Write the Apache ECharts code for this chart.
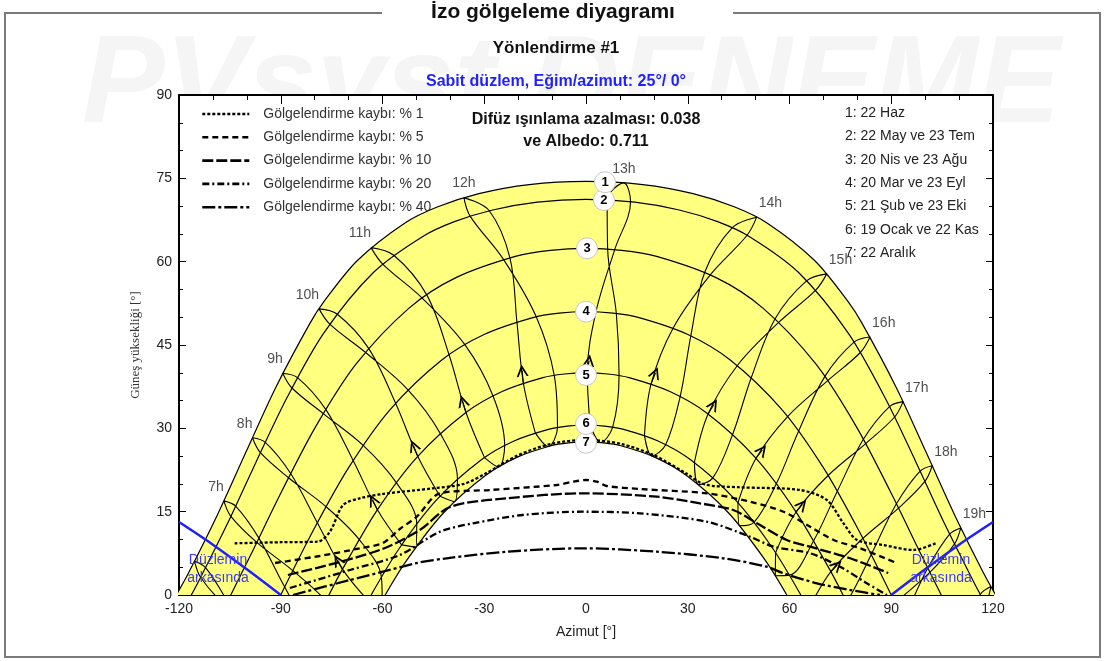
<!DOCTYPE html>
<html><head><meta charset="utf-8">
<script src="https://cdn.jsdelivr.net/npm/echarts@6/dist/echarts.min.js"></script>
<style>html,body{margin:0;padding:0;background:#fff}#c{width:1106px;height:661px}</style>
</head><body><div id="c"></div>
<script>
// ---------- DATA (azimuth [deg], elevation [deg]) ----------
const X_MIN = -120, X_MAX = 120, X_STEP = 30;
const Y_MIN = 0, Y_MAX = 90, Y_STEP = 15;

const DATE_LABELS = ['1: 22 Haz', '2: 22 May ve 23 Tem', '3: 20 Nis ve 23 Ağu', '4: 20 Mar ve 23 Eyl',
  '5: 21 Şub ve 23 Eki', '6: 19 Ocak ve 22 Kas', '7: 22 Aralık'];

const SUN_PATH_1 = [[-120.79,0],[-117.36,3.77],[-108.62,14.5],[-100.22,25.77],[-91.47,37.36],[-81.32,48.98],[-77.28,52.8],[-67.41,60.21],[-53.37,66.97],[-43.69,69.88],[-31.57,72.25],[-16.73,73.88],[0,74.44],[16.73,73.88],[31.57,72.25],[43.69,69.88],[53.37,66.97],[67.41,60.21],[77.28,52.8],[81.32,48.98],[91.47,37.36],[100.22,25.77],[108.62,14.5],[117.36,3.77],[120.79,0]];
const SUN_PATH_2 = [[-116.38,0],[-114.92,1.63],[-105.95,12.55],[-97.26,23.96],[-88.1,35.59],[-77.32,47.14],[-62.61,58.09],[-48.23,64.5],[-38.79,67.2],[-27.48,69.3],[-14.34,70.71],[0,71.2],[14.34,70.71],[27.48,69.3],[38.79,67.2],[48.23,64.5],[62.61,58.09],[77.32,47.14],[88.1,35.59],[97.26,23.96],[105.95,12.55],[114.92,1.63],[116.38,0]];
const SUN_PATH_3 = [[-104.74,0],[-98.91,7.15],[-89.63,18.76],[-79.66,30.35],[-67.82,41.54],[-52.17,51.64],[-38.2,57.17],[-20.56,61.0],[-10.5,62.04],[0,62.4],[10.5,62.04],[20.56,61.0],[38.2,57.17],[52.17,51.64],[67.82,41.54],[79.66,30.35],[89.63,18.76],[98.91,7.15],[104.74,0]];
const SUN_PATH_4 = [[-90,0],[-80.43,11.6],[-70.03,22.87],[-57.82,33.33],[-42.53,42.3],[-30.04,46.9],[-15.65,49.94],[-7.92,50.73],[0,51.0],[7.92,50.73],[15.65,49.94],[30.04,46.9],[42.53,42.3],[57.82,33.33],[70.03,22.87],[80.43,11.6],[90,0]];
const SUN_PATH_5 = [[-75.79,0],[-71.99,4.43],[-61.72,15.15],[-49.87,24.79],[-35.69,32.72],[-24.74,36.63],[-12.7,39.13],[-6.39,39.78],[0,40.0],[6.39,39.78],[12.7,39.13],[24.74,36.63],[35.69,32.72],[49.87,24.79],[61.72,15.15],[71.99,4.43],[75.79,0]];
const SUN_PATH_6 = [[-63.35,0],[-55.12,8.33],[-43.93,17.2],[-30.94,24.29],[-21.23,27.72],[-10.82,29.86],[-5.44,30.41],[0,30.6],[5.44,30.41],[10.82,29.86],[21.23,27.72],[30.94,24.29],[43.93,17.2],[55.12,8.33],[63.35,0]];
const SUN_PATH_7 = [[-59.21,0],[-53.03,6.1],[-42.12,14.71],[-29.55,21.54],[-20.23,24.82],[-10.29,26.87],[-5.17,27.39],[0,27.56],[5.17,27.39],[10.29,26.87],[20.23,24.82],[29.55,21.54],[42.12,14.71],[53.03,6.1],[59.21,0]];

// hour lines: points for Jan19, Feb21, Mar20, Apr20, May22, Jun22, Jul23, Aug23, Sep23, Oct23, Nov22, Dec22
const HOUR_NAMES = ['6h','7h','8h','9h','10h','11h','12h','13h','14h','15h','16h','17h','18h','19h','20h'];
const HOUR_6  = [[-81.92,-23.2],[-90.5,-18.28],[-98.37,-10.18],[-105.73,-1.19],[-112.12,4.89],[-115.4,6.07],[-113.6,3.16],[-106.37,-1.93],[-95.92,-7.26],[-85.93,-12.57],[-78.36,-18.5],[-77.45,-22.6]];
const HOUR_7  = [[-73.24,-11.85],[-81.22,-6.67],[-88.84,1.44],[-96.44,10.24],[-103.3,15.99],[-106.77,16.94],[-104.71,14.16],[-97.05,9.47],[-86.43,4.39],[-76.67,-1.07],[-69.63,-7.33],[-69.01,-11.46]];
const HOUR_8  = [[-64.25,-1.0],[-71.8,4.66],[-79.21,13.02],[-87.07,21.88],[-94.56,27.49],[-98.35,28.31],[-95.99,25.62],[-87.71,21.11],[-76.66,15.9],[-66.91,10.0],[-60.33,3.23],[-60.09,-0.94]];
const HOUR_9  = [[-54.36,9.02],[-61.5,15.35],[-68.65,24.21],[-76.74,33.41],[-85.07,39.12],[-89.42,39.92],[-86.69,37.26],[-77.47,32.65],[-65.7,26.94],[-55.93,20.23],[-49.91,12.8],[-50.18,8.62]];
const HOUR_10 = [[-43.06,17.78],[-49.61,24.97],[-56.14,34.53],[-64.09,44.39],[-73.41,50.58],[-78.71,51.5],[-75.54,48.76],[-65.06,43.69],[-52.49,36.93],[-42.98,29.09],[-37.9,20.89],[-38.81,16.81]];
const HOUR_11 = [[-29.92,24.73],[-35.38,32.85],[-40.38,43.25],[-46.96,54.02],[-56.67,61.15],[-63.38,62.53],[-59.93,59.57],[-48.3,53.45],[-35.72,45.07],[-27.41,35.83],[-23.98,26.89],[-25.77,23.04]];
const HOUR_12 = [[-14.94,29.19],[-18.47,38.16],[-20.37,49.17],[-22.45,60.72],[-28.53,69.17],[-36.0,71.53],[-34.17,68.19],[-24.34,60.41],[-14.67,50.07],[-9.37,39.53],[-8.41,30.16],[-11.15,26.74]];
const HOUR_13 = [[1.2,30.59],[0.38,39.99],[2.94,50.96],[8.47,62.18],[13.14,70.78],[11.18,74.19],[6.24,71.1],[6.38,62.28],[8.94,50.66],[9.75,39.49],[7.87,30.21],[4.29,27.44]];
const HOUR_14 = [[17.24,28.72],[19.19,38.0],[25.7,48.06],[36.64,57.63],[47.5,64.76],[50.32,68.01],[43.08,66.09],[35.01,58.09],[30.91,46.65],[27.76,35.72],[23.49,27.05],[19.4,25.04]];
const HOUR_15 = [[31.96,23.85],[36.0,32.58],[44.64,41.31],[56.88,49.1],[67.73,54.87],[71.0,57.8],[65.11,56.59],[55.77,49.74],[48.74,39.15],[43.25,28.94],[37.46,21.12],[33.19,19.87]];
const HOUR_16 = [[44.8,16.61],[50.13,24.61],[59.45,32.12],[71.28,38.6],[80.89,43.65],[83.76,46.43],[79.03,45.52],[70.43,39.35],[62.71,29.52],[56.15,20.05],[49.54,13.09],[45.31,12.47]];
const HOUR_17 = [[55.89,7.62],[61.94,14.95],[71.39,21.51],[82.47,27.26],[91.0,32.04],[93.48,34.8],[89.48,33.91],[81.78,28.03],[74.1,18.69],[67.12,9.78],[60.0,3.57],[55.81,3.47]];
const HOUR_18 = [[65.61,-2.54],[72.19,4.22],[81.63,10.18],[92.15,15.64],[99.92,20.44],[102.07,23.26],[98.51,22.3],[91.53,16.41],[84.08,7.26],[76.86,-1.29],[69.33,-6.96],[65.12,-6.67]];
const HOUR_19 = [[74.52,-13.5],[81.59,-7.13],[91.16,-1.44],[101.38,4.07],[108.63,9.16],[110.5,12.07],[107.21,10.95],[100.77,4.84],[93.57,-4.39],[86.1,-12.8],[78.07,-18.1],[73.71,-17.6]];
const HOUR_20 = [[83.2,-24.9],[90.9,-18.75],[100.79,-13.02],[110.94,-7.12],[117.8,-1.55],[119.38,1.51],[116.27,0.13],[110.28,-6.39],[103.34,-15.9],[95.64,-24.45],[86.86,-29.7],[82.13,-28.96]];
const HOUR_LINES = [HOUR_6,HOUR_7,HOUR_8,HOUR_9,HOUR_10,HOUR_11,HOUR_12,HOUR_13,HOUR_14,HOUR_15,HOUR_16,HOUR_17,HOUR_18,HOUR_19,HOUR_20];
const HOUR_LABELED = ['7h','8h','9h','10h','11h','12h','13h','14h','15h','16h','17h','18h','19h'];

// direction arrows on hour lines (from point, arrow tip)
const ARROWS = [
  [[-71.8,4.66],[-73.3,6.3]], [[-61.5,15.35],[-62.9,17.1]], [[-49.61,24.97],[-50.9,26.9]],
  [[-35.38,32.85],[-36.4,34.9]], [[-18.47,38.16],[-18.85,40.4]], [[0.38,39.99],[0.9,42.2]],
  [[19.19,38.0],[20.5,40.0]], [[36.0,32.58],[37.7,34.3]], [[50.13,24.61],[52.0,26.1]],
  [[61.94,14.95],[63.8,16.3]], [[72.19,4.22],[74.1,5.4]]
];

// iso-shading lines
const SHADE_NAMES = ['Gölgelendirme kaybı: % 1','Gölgelendirme kaybı: % 5','Gölgelendirme kaybı: % 10','Gölgelendirme kaybı: % 20','Gölgelendirme kaybı: % 40'];
const SHADE_1  = [[-103.6,9.3],[-90,9.5],[-79.1,9.6],[-75.5,11.4],[-71.6,16.2],[-66.7,17.4],[-59.8,18.2],[-45.1,19.2],[-36,20.0],[-29.5,21.9],[-20.2,25.1],[-10.3,27.2],[0,27.9],[10.3,27.2],[20.2,25.1],[29.5,21.9],[35,19.9],[45,19.4],[63.1,18.9],[71,17.1],[75.8,13.0],[79.9,9.9],[87.6,9.0],[96.5,8.1],[103.5,9.4]];
const SHADE_5  = [[-91.7,5.76],[-78.5,7.02],[-66.7,8.41],[-59.9,9.36],[-54.9,11.88],[-49.9,14.09],[-43.1,18.3],[-28.3,18.9],[-8.6,19.8],[-3.8,20.39],[0.2,20.7],[3.2,20.39],[6.1,19.62],[15.9,19.08],[35.6,18.3],[48.4,16.79],[58.2,14.99],[66.1,12.29],[73.0,9.9],[80.8,8.41],[91.7,5.71]];
const SHADE_10 = [[-87.9,3.6],[-72.6,5.94],[-59.3,8.46],[-49.0,11.7],[-40.1,15.84],[-23.4,17.4],[-0.9,18.3],[20.9,17.69],[33.6,16.5],[43.4,15.3],[50.4,12.9],[59.2,9.9],[66.1,8.69],[77.9,6.61],[89.1,3.96]];
const SHADE_20 = [[-87.3,1.26],[-69.6,4.5],[-54.9,7.2],[-43.1,11.39],[-33.3,12.9],[-18.6,14.4],[-0.9,14.99],[15.9,14.7],[35.6,13.19],[48.4,10.49],[55.3,8.69],[66.1,7.51],[74.9,5.09],[82.8,2.11],[88.7,0]];
const SHADE_40 = [[-86.4,0],[-69.6,2.7],[-59.9,4.19],[-49.9,5.76],[-41.1,6.61],[-23.4,7.79],[-0.9,8.41],[20.9,7.79],[40.4,6.61],[53.3,5.09],[58.2,3.91],[68.1,2.11],[77.9,0.9],[86.7,0]];
const SHADES = [SHADE_1,SHADE_5,SHADE_10,SHADE_20,SHADE_40];

const PLANE_LEFT  = [[-120,13.13],[-110,9.06],[-100,4.63],[-90,0]];
const PLANE_RIGHT = [[90,0],[100,4.63],[110,9.06],[120,13.13]];

const MARKER_NAMES = ['1','2','3','4','5','6','7'];
const MARKER_POS = [[5.6,74.3],[5.3,71.1],[0.3,62.4],[0,51.0],[0,39.6],[0,30.8],[0,27.4]];

// ---------- STYLE ----------
const NARROW = "'Liberation Sans Narrow','Liberation Sans',Arial,sans-serif";
const SANS = "'Liberation Sans',Arial,sans-serif";
const YELLOW = '#ffff80';
const BLUE = '#1f1fff';
const DASHES = [[3,2],[6,4],[11,3],[7,3,2,3],[13,3,3,3]];

const chart = echarts.init(document.getElementById('c'), null, {renderer:'canvas'});
const series = [];
series.push({type:'line', data:SUN_PATH_1, smooth:0.3, symbol:'none', silent:true, z:1,
  lineStyle:{color:'#000', width:1.2}, areaStyle:{color:YELLOW, opacity:1}});
series.push({type:'line', data:SUN_PATH_7, smooth:0.3, symbol:'none', silent:true, z:2,
  lineStyle:{color:'#000', width:1.2}, areaStyle:{color:'#fff', opacity:1}});
[SUN_PATH_2,SUN_PATH_3,SUN_PATH_4,SUN_PATH_5,SUN_PATH_6].forEach(p => series.push({
  type:'line', data:p, smooth:0.3, symbol:'none', silent:true, z:3, lineStyle:{color:'#000', width:1.2}}));
HOUR_LINES.forEach(h => series.push({type:'line', data:h.concat([h[0]]), smooth:0.35, symbol:'none',
  silent:true, z:3, lineStyle:{color:'#000', width:1.1}}));
series.push({type:'lines', coordinateSystem:'cartesian2d', z:4, silent:true,
  symbol:['none','path://M5,0L10,13L8.4,13L5,4.2L1.6,13L0,13Z'], symbolSize:[8,12],
  lineStyle:{color:'#000', width:1.1, opacity:1},
  data: ARROWS.map(a => ({coords:a}))});
SHADES.forEach((s,i) => series.push({type:'line', name:SHADE_NAMES[i], data:s, smooth:0.3, symbol:'none',
  silent:true, z:5, lineStyle:{color:'#000', width:2.3, type:DASHES[i]}, itemStyle:{color:'rgba(0,0,0,0)'}}));
[PLANE_LEFT, PLANE_RIGHT].forEach(p => series.push({type:'line', data:p, smooth:0.3, symbol:'none', silent:true,
  z:5, lineStyle:{color:BLUE, width:2.5}}));
// hour labels at the 22 June points
series.push({type:'scatter', z:6, symbolSize:0, silent:true,
  data: HOUR_LABELED.map(n => {
    const p = HOUR_LINES[HOUR_NAMES.indexOf(n)][5];
    const am = parseInt(n) < 12, noon = (n === '12h' || n === '13h');
    return {value:p, label:{show:true, formatter:n, position:'inside', align: noon ? 'center' : (am ? 'right' : 'left'),
      offset: noon ? [0,-14] : (am ? [0,-14] : [2,-14]), color:'#222', fontSize:14, fontFamily:SANS}};
  })});
// date markers (drawn 7..1 so that 1 is on top)
series.push({type:'scatter', z:7, silent:true, symbol:'circle', symbolSize:21,
  itemStyle:{color:'#fff', borderColor:'#c8c8c8', borderWidth:1, opacity:1},
  label:{show:true, position:'inside', formatter:p => MARKER_NAMES[MARKER_NAMES.length-1-p.dataIndex],
    color:'#000', fontWeight:'bold', fontSize:13, fontFamily:SANS},
  data: MARKER_POS.slice().reverse()});

const axisCommon = {
  axisLine:{show:true, onZero:false, lineStyle:{color:'#000', width:2}},
  splitLine:{show:false}
};
const option = {
  animation:false,
  backgroundColor:'#fff',
  grid:{left:179, right:113, top:95, bottom:66, show:true, backgroundColor:'#fff', borderColor:'#000', borderWidth:1.5, z:0},
  legend:{orient:'vertical', left:196, top:102, itemWidth:47, itemHeight:14, itemGap:9.3, selectedMode:false,
    itemStyle:{color:'rgba(0,0,0,0)', borderWidth:0, opacity:0},
    lineStyle:{width:2.6},
    data:SHADE_NAMES, textStyle:{fontSize:14, color:'#333', fontFamily:SANS, padding:[0,0,0,9]}},
  xAxis:[
    Object.assign({type:'value', min:X_MIN, max:X_MAX, interval:X_STEP, position:'bottom',
      axisTick:{inside:true, length:9, lineStyle:{color:'#000'}},
      minorTick:{show:true, splitNumber:3, length:5, lineStyle:{color:'#000'}},
      axisLabel:{color:'#222', fontSize:14, fontFamily:NARROW, margin:7},
      name:'Azimut [°]', nameLocation:'middle', nameGap:30, nameTextStyle:{color:'#222', fontSize:14, fontFamily:NARROW}}, axisCommon),
    Object.assign({type:'value', min:X_MIN, max:X_MAX, interval:X_STEP, position:'top',
      axisTick:{inside:true, length:9, lineStyle:{color:'#000'}},
      minorTick:{show:true, splitNumber:3, length:5, lineStyle:{color:'#000'}},
      axisLabel:{show:false}}, axisCommon)
  ],
  yAxis:[
    Object.assign({type:'value', min:Y_MIN, max:Y_MAX, interval:Y_STEP, position:'left',
      axisTick:{inside:true, length:7, lineStyle:{color:'#000'}},
      minorTick:{show:true, splitNumber:3, length:4, lineStyle:{color:'#000'}},
      axisLabel:{color:'#222', fontSize:14, fontFamily:NARROW, margin:7},
      name:'Güneş yüksekliği [°]', nameLocation:'middle', nameGap:37, nameRotate:90,
      nameTextStyle:{color:'#333', fontSize:13, fontFamily:"'Liberation Serif',serif"}}, axisCommon),
    Object.assign({type:'value', min:Y_MIN, max:Y_MAX, interval:Y_STEP, position:'right',
      axisTick:{inside:true, length:7, lineStyle:{color:'#000'}},
      minorTick:{show:true, splitNumber:3, length:4, lineStyle:{color:'#000'}},
      axisLabel:{show:false}}, axisCommon)
  ],
  series: series,
  graphic:[
    {type:'text', z:-10, left:82, top:26, style:{text:'PVsyst DENEME', fill:'#f5f5f5', font:"italic bold 124px "+SANS}},
    {type:'polyline', z:10, shape:{points:[[382,13],[5,13],[5,657],[1100,657],[1100,13],[733,13]]}, style:{stroke:'#7a7a7a', lineWidth:2, fill:null}},
    {type:'text', z:10, left:'center', top:2, style:{text:'İzo gölgeleme diyagramı', fill:'#111', font:"bold 21px "+NARROW}},
    {type:'text', z:10, x:556, y:48, style:{text:'Yönlendirme #1', fill:'#111', font:"bold 17px "+NARROW, align:'center', verticalAlign:'middle'}},
    {type:'text', z:10, x:556, y:82, style:{text:'Sabit düzlem, Eğim/azimut: 25°/ 0°', fill:BLUE, font:"bold 16px "+NARROW, align:'center', verticalAlign:'middle'}},
    {type:'text', z:20, x:586, y:120, style:{text:'Difüz ışınlama azalması: 0.038', fill:'#111', font:"bold 16px "+SANS, align:'center', verticalAlign:'middle'}},
    {type:'text', z:20, x:586, y:142, style:{text:'ve Albedo: 0.711', fill:'#111', font:"bold 16px "+SANS, align:'center', verticalAlign:'middle'}},
    {type:'group', z:20, children: DATE_LABELS.map((t,i) => ({type:'text', z:20, x:845, y:113 + i*23.4,
      style:{text:t, fill:'#222', font:"14px "+SANS, verticalAlign:'middle'}}))},
    {type:'text', z:20, x:218, y:560, style:{text:'Düzlemin', fill:'#3a3aff', font:"14px "+SANS, align:'center', verticalAlign:'middle'}},
    {type:'text', z:20, x:218, y:578, style:{text:'arkasında', fill:'#3a3aff', font:"14px "+SANS, align:'center', verticalAlign:'middle'}},
    {type:'text', z:20, x:941, y:560, style:{text:'Düzlemin', fill:'#3a3aff', font:"14px "+SANS, align:'center', verticalAlign:'middle'}},
    {type:'text', z:20, x:941, y:578, style:{text:'arkasında', fill:'#3a3aff', font:"14px "+SANS, align:'center', verticalAlign:'middle'}}
  ]
};
chart.setOption(option);
</script></body></html>
